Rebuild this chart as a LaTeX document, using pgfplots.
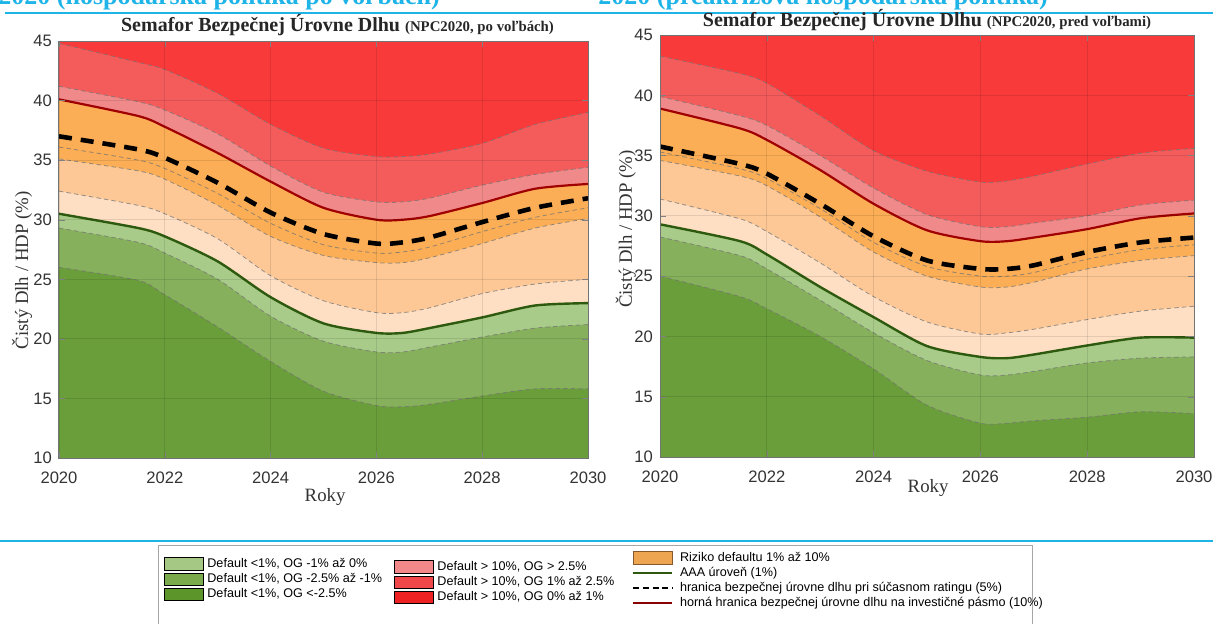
\documentclass[border=0pt]{standalone}
\usepackage{fontspec}
\setmainfont{Liberation Serif}
\newfontfamily\sansf{Liberation Sans}
\usepackage{pgfplots}
\pgfplotsset{compat=1.18}
\usepackage{pgfplotstable}

\definecolor{rtop}{RGB}{249,58,58}
\definecolor{rmid}{RGB}{244,92,92}
\definecolor{rlow}{RGB}{240,138,138}
\definecolor{odark}{RGB}{251,174,85}
\definecolor{olight}{RGB}{253,200,150}
\definecolor{opale}{RGB}{254,223,196}
\definecolor{glight}{RGB}{168,203,138}
\definecolor{gmid}{RGB}{134,176,92}
\definecolor{gdark}{RGB}{106,158,58}
\definecolor{aaa}{RGB}{45,90,14}
\definecolor{redl}{RGB}{160,0,0}
\definecolor{cyanT}{RGB}{30,180,232}
\definecolor{lgG1}{RGB}{165,200,132}
\definecolor{lgG2}{RGB}{122,170,76}
\definecolor{lgG3}{RGB}{92,150,42}
\definecolor{lgR1}{RGB}{242,136,138}
\definecolor{lgR2}{RGB}{240,71,75}
\definecolor{lgR3}{RGB}{238,34,34}

\pgfplotstableread{
x      R2    R1    RED   BLK   OA    OB    B4    AAA   B2    B1
2020   44.8  41.2  40.1  37.0  36.1  35.1  32.4  30.5  29.3  26.0
2021.5 43.2  39.9  38.7  35.9  35.0  34.1  31.2  29.3  28.1  24.9
2022   42.6  39.2  37.8  35.2  34.3  33.4  30.5  28.6  27.2  23.7
2023   40.6  37.2  35.6  33.1  32.2  31.2  28.4  26.5  25.0  21.0
2024   38.0  34.5  33.2  30.6  29.7  28.6  25.3  23.5  21.9  18.1
2025   36.0  32.3  31.0  28.8  27.9  27.0  23.2  21.3  19.8  15.6
2026   35.3  31.5  30.0  28.0  27.2  26.4  22.2  20.5  18.9  14.4
2026.5 35.3  31.5  30.0  28.1  27.3  26.4  22.2  20.5  18.9  14.3
2027   35.5  31.8  30.3  28.5  27.7  26.8  22.6  20.9  19.3  14.5
2028   36.4  32.9  31.4  29.8  29.0  28.0  23.8  21.8  20.15 15.2
2029   38.0  33.8  32.6  31.0  30.2  29.3  24.6  22.8  20.9  15.8
2030   39.0  34.4  33.0  31.8  31.0  30.1  25.0  23.0  21.2  15.8
}\leftT

\pgfplotstableread{
x      R2    R1    RED   BLK   OA    OB    B4    AAA   B2    B1
2020   43.25 39.9  38.9  35.75 35.3  34.6  31.4  29.3  28.25 25.0
2021.5 41.8  38.3  37.25 34.3  33.9  33.3  29.75 27.9  26.7  23.3
2022   41.0  37.5  36.3  33.5  33.1  32.5  28.7  26.8  25.6  22.3
2023   38.3  35.0  33.8  31.0  30.6  29.9  26.1  24.1  23.0  20.0
2024   35.4  32.3  31.0  28.3  27.8  27.0  23.3  21.6  20.3  17.3
2025   33.7  30.1  28.8  26.3  25.8  25.0  21.2  19.2  18.0  14.3
2026   32.8  29.1  27.9  25.6  25.0  24.1  20.2  18.3  16.8  12.8
2026.5 32.9  29.1  27.9  25.6  25.0  24.1  20.3  18.2  16.8  12.8
2027   33.3  29.4  28.2  25.9  25.3  24.5  20.6  18.5  17.1  13.0
2028   34.3  30.0  28.9  27.0  26.4  25.6  21.4  19.25 17.8  13.3
2029   35.2  30.9  29.8  27.8  27.2  26.3  22.1  19.9  18.2  13.75
2030   35.6  31.3  30.2  28.2  27.6  26.7  22.5  19.9  18.3  13.6
}\rightT

\pgfplotsset{
  semafor/.style={
    scale only axis, xmin=2020, xmax=2030, ymin=10, ymax=45,
    xtick={2020,2022,...,2030}, ytick={10,15,...,45},
    /pgf/number format/1000 sep={},
    /pgf/number format/assume math mode=true,
    tick label style={font=\sansf\fontsize{8.3}{9}\selectfont, text=black!80},
    x tick label style={yshift=-3.5pt},
    axis background/.style={fill=rtop},
    axis on top, grid=major, grid style={black, opacity=0.1, line width=0.4pt},
    tick align=inside, major tick length=3pt, tick style={black!50},
    axis line style={black!55, line width=0.5pt},
    ylabel={Čistý Dlh / HDP (\%)}, xlabel={Roky},
    label style={font=\fontsize{9.4}{10}\selectfont, text=black!80},
    every axis plot/.append style={smooth, tension=0.45},
    ddash/.style={draw=black!55, draw opacity=0.75, line width=0.4pt, dash pattern=on 2.2pt off 1.6pt},
  },
}

\newcommand{\bands}[1]{%
  \addplot[draw=none, fill=rmid] table[x=x,y=R2] {#1} \closedcycle;
  \addplot[draw=none, fill=rlow] table[x=x,y=R1] {#1} \closedcycle;
  \addplot[draw=none, fill=odark] table[x=x,y=RED] {#1} \closedcycle;
  \addplot[draw=none, fill=olight] table[x=x,y=OB] {#1} \closedcycle;
  \addplot[draw=none, fill=opale] table[x=x,y=B4] {#1} \closedcycle;
  \addplot[draw=none, fill=glight] table[x=x,y=AAA] {#1} \closedcycle;
  \addplot[draw=none, fill=gmid] table[x=x,y=B2] {#1} \closedcycle;
  \addplot[draw=none, fill=gdark] table[x=x,y=B1] {#1} \closedcycle;
  \addplot[ddash] table[x=x,y=R2] {#1};
  \addplot[ddash] table[x=x,y=R1] {#1};
  \addplot[ddash] table[x=x,y=OA] {#1};
  \addplot[ddash] table[x=x,y=OB] {#1};
  \addplot[ddash] table[x=x,y=B4] {#1};
  \addplot[ddash] table[x=x,y=B2] {#1};
  \addplot[ddash] table[x=x,y=B1] {#1};
  \addplot[redl, line width=1.1pt] table[x=x,y=RED] {#1};
  \addplot[aaa, line width=1.2pt] table[x=x,y=AAA] {#1};
  \addplot[black, line width=2.3pt, dash pattern=on 6.5pt off 4.5pt] table[x=x,y=BLK] {#1};
}

\begin{document}
\begin{tikzpicture}
\path[use as bounding box] (0pt,0pt) rectangle (606.5pt,-312pt);

% top cut-off headings and rules
\node[anchor=base west, inner sep=0pt, text=cyanT, font=\bfseries\fontsize{13}{13}\selectfont] at (-1pt,-2.4pt) {2020 (hospodárska politika po voľbách)};
\node[anchor=base west, inner sep=0pt, text=cyanT, font=\bfseries\fontsize{13}{13}\selectfont] at (299pt,-2.4pt) {2020 (preakrízová hospodárska politika)};
\draw[cyanT, line width=1.1pt] (2.5pt,-6.5pt) -- (606.5pt,-6.5pt);
\draw[cyanT, line width=1.1pt] (0pt,-270.5pt) -- (606.5pt,-270.5pt);

% left chart
\begin{axis}[semafor, at={(29.5pt,-229pt)}, anchor=south west,
  width=264.5pt, height=208.5pt,
  title={\textbf{Semafor Bezpečnej Úrovne Dlhu}\ {\fontsize{7.4}{8}\selectfont\textbf{(NPC2020, po voľbách)}}},
  title style={font=\fontsize{10}{11}\selectfont, text=black!85, xshift=7pt, yshift=-7pt},
  ylabel style={at={(axis description cs:-0.07,0.45)}, anchor=center},
  xlabel style={at={(axis description cs:0.503,-0.094)}, anchor=center},
]
\bands{\leftT}
\end{axis}

% right chart
\begin{axis}[semafor, at={(330pt,-228.5pt)}, anchor=south west,
  width=267pt, height=211pt,
  title={\textbf{Semafor Bezpečnej Úrovne Dlhu}\ {\fontsize{7.4}{8}\selectfont\textbf{(NPC2020, pred voľbami)}}},
  title style={font=\fontsize{10}{11}\selectfont, text=black!85, yshift=-7.5pt},
  ylabel style={at={(axis description cs:-0.064,0.54)}, anchor=center},
  xlabel style={at={(axis description cs:0.502,-0.074)}, anchor=center},
]
\bands{\rightT}
\end{axis}

% legend frame
\draw[black!35, line width=0.5pt, fill=white] (79pt,-272.5pt) rectangle (516pt,-316pt);

\pgfplotsset{
  legax/.style={hide axis, scale only axis, width=1pt, height=1pt, xmin=0, xmax=1, ymin=0, ymax=1,
    legend cell align=left,
    legend style={at={(0,1)}, anchor=north west, draw=none, fill=none, inner sep=0pt,
      row sep=0.8pt, font=\sansf\fontsize{6.3}{7}\selectfont,
      nodes={inner ysep=0.3pt, inner xsep=1.6pt, text height=4.8pt, text depth=1.3pt}},
  },
  swatch/.style={legend image code/.code={\fill[##1] (0pt,-3pt) rectangle (19.5pt,3.2pt);}},
  lineimg/.style={legend image code/.code={\draw[##1] (0pt,0.2pt) -- (19.5pt,0.2pt);}},
}

\begin{axis}[legax, at={(82pt,-278.5pt)}, anchor=north west]
\addlegendimage{swatch, fill=lgG1}
\addlegendentry{Default <1\%, OG -1\% až 0\%}
\addlegendimage{swatch, fill=lgG2}
\addlegendentry{Default <1\%, OG -2.5\% až -1\%}
\addlegendimage{swatch, fill=lgG3}
\addlegendentry{Default <1\%, OG <-2.5\%}
\end{axis}

\begin{axis}[legax, at={(197pt,-280pt)}, anchor=north west]
\addlegendimage{swatch, fill=lgR1}
\addlegendentry{Default > 10\%, OG > 2.5\%}
\addlegendimage{swatch, fill=lgR2}
\addlegendentry{Default > 10\%, OG 1\% až 2.5\%}
\addlegendimage{swatch, fill=lgR3}
\addlegendentry{Default > 10\%, OG 0\% až 1\%}
\end{axis}

\begin{axis}[legax, at={(316pt,-275.5pt)}, anchor=north west,
  legend style={nodes={inner xsep=3.3pt}}]
\addlegendimage{swatch, fill=odark!95!black, draw=brown!70!black, line width=0.3pt}
\addlegendentry{Riziko defaultu 1\% až 10\%}
\addlegendimage{lineimg, aaa, line width=1pt}
\addlegendentry{AAA úroveň (1\%)}
\addlegendimage{lineimg, black, line width=1pt, dash pattern=on 3pt off 1.8pt}
\addlegendentry{hranica bezpečnej úrovne dlhu pri súčasnom ratingu (5\%)}
\addlegendimage{lineimg, redl!85!black, line width=1pt}
\addlegendentry{horná hranica bezpečnej úrovne dlhu na investičné pásmo (10\%)}
\end{axis}
\end{tikzpicture}
\end{document}
